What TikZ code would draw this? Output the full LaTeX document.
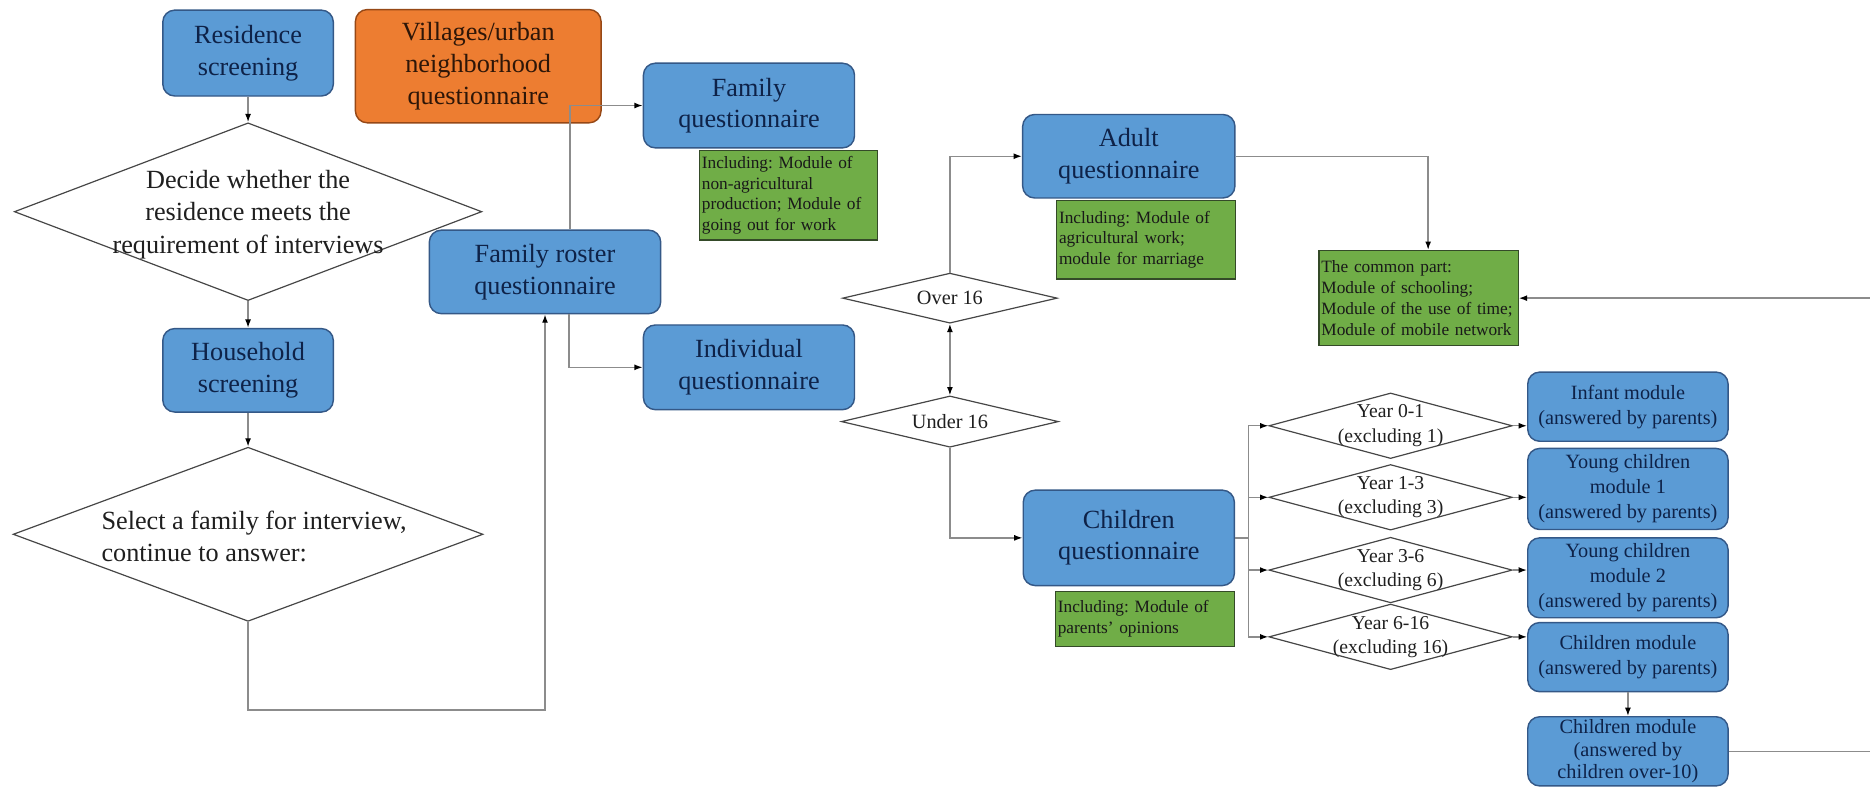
\documentclass[tikz,border=0pt]{standalone}
\usepackage{fontspec}
\setmainfont{Liberation Serif}
\usetikzlibrary{shapes.geometric,arrows.meta}
\frenchspacing

\definecolor{boxblue}{RGB}{91,155,213}
\definecolor{blueline}{RGB}{52,88,135}
\definecolor{navytext}{RGB}{14,34,72}
\definecolor{boxorange}{RGB}{237,125,49}
\definecolor{orangeline}{RGB}{150,72,22}
\definecolor{notegreen}{RGB}{112,173,71}
\definecolor{greenline}{RGB}{52,74,40}
\definecolor{decline}{RGB}{70,70,70}
\definecolor{conline}{RGB}{140,140,140}

\tikzset{every picture/.style={line width=0.75pt}}
\tikzset{
  blk/.style={draw=blueline, fill=boxblue, rounded corners=10pt, line width=1.2pt,
    text=navytext, align=center, inner sep=0pt, font=\fontsize{22}{26.5}\selectfont},
  org/.style={blk, draw=orangeline, fill=boxorange, text={rgb,255:red,45;green,22;blue,8}},
  mdl/.style={blk, font=\fontsize{17}{21}\selectfont},
  note/.style={draw=greenline, fill=notegreen, line width=1pt, text=black!90,
    align=left, inner xsep=2pt, inner ysep=1pt, font=\fontsize{14.5}{17.5}\selectfont},
  dec/.style={diamond, draw=decline, fill=white, line width=1pt, inner sep=0pt},
  dtx/.style={align=center, text=black!88, inner sep=0pt, font=\fontsize{22}{27}\selectfont},
  ytx/.style={dtx, font=\fontsize{16.5}{20.5}\selectfont},
  con/.style={draw=conline, line width=1.2pt},
  arr/.style={con, -{Latex[length=7pt,width=5pt,color=black]}},
  darr/.style={con, {Latex[length=7pt,width=5pt,color=black]}-{Latex[length=7pt,width=5pt,color=black]}}
}

\begin{document}
\begin{tikzpicture}[x=1pt,y=1pt,yscale=-1,xscale=1]
\path[use as bounding box, fill=white] (0,0) rectangle (1568,660);

%Shape: Rounded rect, screening column
\node[blk, minimum width=143pt, minimum height=72pt] (rs) at (208,44.5) {Residence\\screening};
\node[blk, minimum width=143pt, minimum height=70pt] (hs) at (208,310.5) {Household\\screening};
%Shape: Diamonds, screening column
\node[dec, minimum width=392pt, minimum height=149pt] (d1) at (208,177.5) {};
\node[dec, minimum width=394pt, minimum height=146pt] (d2) at (208,448) {};
% Text Node
\node[dtx] (d1t) at (208,180) {Decide whether the\\residence meets the\\requirement of interviews};
% Text Node
\node[dtx, align=left] (d2t) at (213,450) {Select a family for interview,\\continue to answer:};

%Shape: Rounded rect, village
\node[org, minimum width=206pt, minimum height=95pt] (vq) at (401,55.5) {Villages/urban\\neighborhood\\questionnaire};
%Shape: Rounded rect, roster, family, individual
\node[blk, minimum width=194pt, minimum height=70pt] (fr) at (457,228) {Family roster\\questionnaire};
\node[blk, minimum width=177pt, minimum height=71pt] (fq) at (628,88.5) {Family\\questionnaire};
\node[blk, minimum width=177pt, minimum height=71pt] (iq) at (628,308) {Individual\\questionnaire};
%Shape: Rect, note
\node[note, text width=145pt, minimum height=75pt] (n1) at (661,163.7) {Including: Module of\\non-agricultural\\production; Module of\\going out for work};

%Shape: Diamonds, age split
\node[dec, minimum width=180pt, minimum height=42pt] (o16) at (796.5,250) {};
\node[dec, minimum width=182pt, minimum height=43pt] (u16) at (796.5,353.5) {};
% Text Node
\node[ytx, font=\fontsize{17}{20}\selectfont] (o16t) at (o16) {Over 16};
% Text Node
\node[ytx, font=\fontsize{17}{20}\selectfont] (u16t) at (u16) {Under 16};

%Shape: Rounded rect, adult and children
\node[blk, minimum width=178pt, minimum height=70pt] (aq) at (946.5,131) {Adult\\questionnaire};
\node[blk, minimum width=177pt, minimum height=80pt] (cq) at (946.5,451) {Children\\questionnaire};
%Shape: Rect, notes
\node[note, text width=146pt, minimum height=66pt] (n2) at (961,201) {Including: Module of\\agricultural work;\\module for marriage};
\node[note, text width=146pt, minimum height=46pt] (n3) at (960,519) {Including: Module of\\parents’ opinions};
\node[note, text width=163pt, minimum height=80pt] (cp) at (1189.5,250) {The common part:\\Module of schooling;\\Module of the use of time;\\Module of mobile network};

%Shape: Diamonds, year groups
\foreach \nm/\yy/\aa/\bb in {y01/357/0-1/1, y13/417/1-3/3, y36/478/3-6/6, y616/534/6-16/16}{
  \node[dec, minimum width=204pt, minimum height=55pt] (\nm) at (1166,\yy) {};
  \node[ytx] (t\nm) at (\nm) {Year \aa\\(excluding \bb)};
}

%Shape: Rounded rect, modules
\node[mdl, minimum width=168pt, minimum height=58pt] (im) at (1365,341) {Infant module\\(answered by parents)};
\node[mdl, minimum width=168pt, minimum height=68pt] (y1m) at (1365,410) {Young children\\module 1\\(answered by parents)};
\node[mdl, minimum width=168pt, minimum height=67pt] (y2m) at (1365,484.5) {Young children\\module 2\\(answered by parents)};
\node[mdl, minimum width=168pt, minimum height=58pt] (cpm) at (1365,551) {Children module\\(answered by parents)};
\node[mdl, minimum width=168pt, minimum height=58pt, font=\fontsize{17}{19}\selectfont] (c10) at (1365,630) {Children module\\(answered by\\children over-10)};

% Connectors
\draw[arr] (rs.south) -- (d1.north);
\draw[arr] (d1.south) -- (hs.north);
\draw[arr] (hs.south) -- (d2.north);
\draw[arr] (d2.south) -- ++(0,74) -| (fr.south);
\draw[arr] ([xshift=21pt]fr.north) |- (fq.west);
\draw[arr] ([xshift=20pt]fr.south) |- (iq.west);
\draw[arr] (o16.north) |- (aq.west);
\draw[darr] (o16.south) -- (u16.north);
\draw[arr] (u16.south) |- (cq.west);
\draw[arr] (aq.east) -| ([xshift=8pt]cp.north);
\coordinate (rin) at (1568,250);
\draw[arr] (rin) -- (cp.east);
\coordinate (tr) at (1047,451);
\draw[con] (cq.east) -- (tr);
\foreach \nm in {y01,y13,y36,y616} \draw[arr] (tr) |- (\nm.west);
\foreach \nm/\bx in {y01/im,y13/y1m,y36/y2m,y616/cpm} \draw[arr] (\nm.east) -- (\nm.east -| \bx.west);
\draw[arr] (cpm.south) -- (c10.north);
\coordinate (rout) at (1568,630);
\draw[con] (c10.east) -- (rout);

\end{tikzpicture}
\end{document}
